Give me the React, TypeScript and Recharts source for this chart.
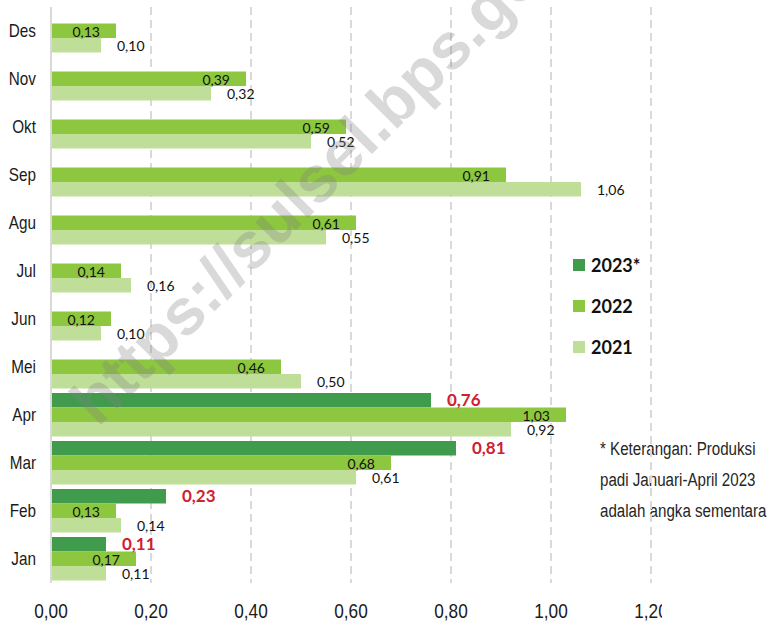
import { BarChart, Bar, XAxis, YAxis, CartesianGrid, LabelList, Legend } from 'recharts';

// production by month (million ton), top row first
const months = ['Des', 'Nov', 'Okt', 'Sep', 'Agu', 'Jul', 'Jun', 'Mei', 'Apr', 'Mar', 'Feb', 'Jan'];
const prod2023 = [null, null, null, null, null, null, null, null, 0.76, 0.81, 0.23, 0.11];
const prod2022 = [0.13, 0.39, 0.59, 0.91, 0.61, 0.14, 0.12, 0.46, 1.03, 0.68, 0.13, 0.17];
const prod2021 = [0.1, 0.32, 0.52, 1.06, 0.55, 0.16, 0.1, 0.5, 0.92, 0.61, 0.14, 0.11];
const xTicks = [0, 0.2, 0.4, 0.6, 0.8, 1.0, 1.2];
const seriesNames = ['2023*', '2022', '2021'];
const seriesColors = ['#409c4c', '#8dc63f', '#bfdf98'];
const noteLines = ['* Keterangan: Produksi', 'padi Januari-April 2023', 'adalah angka sementara'];

const data = months.map((m, i) => ({
  month: m,
  y2023: prod2023[i],
  y2022: prod2022[i],
  y2021: prod2021[i],
}));

const fmt = (v: number) => v.toFixed(2).replace('.', ',');
const narrow = 'Liberation Sans, Arial, sans-serif';
const calibri = 'Lato, "Open Sans", sans-serif';

function XTick({ x, y, payload }: any) {
  return (
    <text
      transform={`translate(${x},${y}) scale(0.82,1)`}
      x={0}
      y={35}
      textAnchor="middle"
      fontSize={21}
      fontFamily={narrow}
      fill="#1a1a1a"
    >
      {fmt(payload.value)}
    </text>
  );
}

function YTick({ x, y, payload }: any) {
  return (
    <text
      transform={`translate(${x - 15},${y}) scale(0.85,1)`}
      x={0}
      y={6}
      textAnchor="end"
      fontSize={18}
      fontFamily={narrow}
      fill="#1a1a1a"
    >
      {payload.value}
    </text>
  );
}

const insideEnd = (p: any) =>
  p.value == null ? null : (
    <text x={p.x + p.width - 16} y={p.y + p.height / 2 + 6} textAnchor="end" fontSize={14} fontFamily={calibri} fill="#111">
      {fmt(p.value)}
    </text>
  );

const outsideEnd = (p: any) =>
  p.value == null ? null : (
    <text x={p.x + p.width + 16} y={p.y + p.height / 2 + 6} textAnchor="start" fontSize={14} fontFamily={calibri} fill="#111">
      {fmt(p.value)}
    </text>
  );

const outsideRed = (p: any) =>
  p.value == null ? null : (
    <text
      x={p.x + p.width + 16}
      y={p.y + p.height / 2 + 6}
      textAnchor="start"
      fontSize={17}
      fontWeight="bold"
      fontFamily={calibri}
      fill="#d0202e"
    >
      {fmt(p.value)}
    </text>
  );

const renderLegend = () => (
  <div>
    {seriesNames.map((n, i) => (
      <div key={n} style={{ display: 'flex', alignItems: 'center', height: 41 }}>
        <span style={{ width: 12, height: 12, background: seriesColors[i], marginRight: 6 }} />
        <span style={{ fontFamily: calibri, fontWeight: 'bold', fontSize: 18, color: '#111' }}>{n}</span>
      </div>
    ))}
  </div>
);

export default function App() {
  return (
    <div style={{ position: 'absolute', left: 0, top: 0, width: 776, height: 622, background: '#fff', overflow: 'hidden' }}>
      <div style={{ position: 'absolute', left: 600, top: 434 }}>
        {noteLines.map((l) => (
          <div
            key={l}
            style={{
              fontFamily: narrow,
              fontSize: 18,
              lineHeight: '31px',
              color: '#262626',
              whiteSpace: 'nowrap',
              transform: 'scaleX(0.84)',
              transformOrigin: 'left',
            }}
          >
            {l}
          </div>
        ))}
      </div>
      <BarChart
        width={662}
        height={622}
        data={data}
        layout="vertical"
        margin={{ top: 7, right: 11, bottom: 0, left: 0 }}
        barGap={0}
        barSize={14.5}
      >
        <CartesianGrid horizontal={false} stroke="#d9d9d9" strokeWidth={2} strokeDasharray="8 5" />
        <XAxis
          type="number"
          domain={[0, 1.2]}
          ticks={xTicks}
          height={39}
          axisLine={false}
          tickLine={false}
          tickSize={0}
          tickMargin={0}
          tick={<XTick />}
          interval={0}
        />
        <YAxis
          type="category"
          dataKey="month"
          width={51}
          axisLine={{ stroke: '#d9d9d9', strokeWidth: 2 }}
          tickLine={false}
          tickSize={0}
          tickMargin={0}
          tick={<YTick />}
          interval={0}
        />
        <Legend layout="vertical" align="center" verticalAlign="middle" content={renderLegend} wrapperStyle={{ left: 573, top: 244, width: 100 }} />
        <Bar dataKey="y2023" name={seriesNames[0]} fill={seriesColors[0]} isAnimationActive={false}>
          <LabelList dataKey="y2023" content={outsideRed} />
        </Bar>
        <Bar dataKey="y2022" name={seriesNames[1]} fill={seriesColors[1]} isAnimationActive={false}>
          <LabelList dataKey="y2022" content={insideEnd} />
        </Bar>
        <Bar dataKey="y2021" name={seriesNames[2]} fill={seriesColors[2]} isAnimationActive={false}>
          <LabelList dataKey="y2021" content={outsideEnd} />
        </Bar>
      </BarChart>
      <svg width={776} height={622} style={{ position: 'absolute', left: 0, top: 0, pointerEvents: 'none' }}>
        <text
          x={98}
          y={428}
          transform="rotate(-45 98 428)"
          fontSize={65}
          fontWeight="bold"
          fontFamily={narrow}
          fill="#808080"
          fillOpacity={0.3}
        >
          https://sulsel.bps.go.id
        </text>
      </svg>
    </div>
  );
}
